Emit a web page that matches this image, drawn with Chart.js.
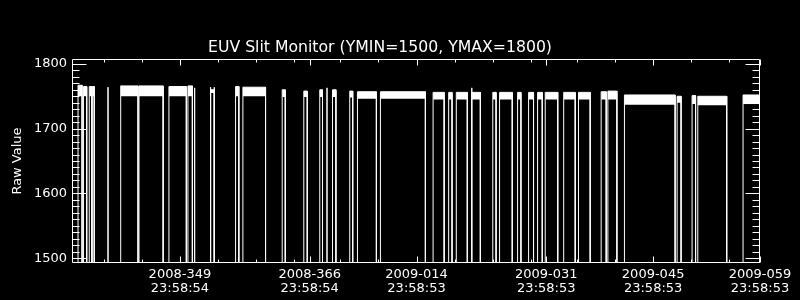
<!DOCTYPE html>
<html>
<head>
<meta charset="utf-8">
<script src="https://cdn.jsdelivr.net/npm/chart.js@4.4.1/dist/chart.umd.min.js"></script>
<style>
  html, body { margin: 0; padding: 0; background: #000; }
  #wrap { width: 800px; height: 300px; }
</style>
</head>
<body>
<div id="wrap"><canvas id="myChart" width="800" height="300"></canvas></div>
<script>
// time axis: day of year, 2009 days continue after 366 (2009-001 = 367)
var segStart = [336.65, 337.36, 338.12, 338.51, 342.24, 344.64, 348.56, 351.05, 354.02, 357.29,
  358.25, 363.40, 366.23, 368.32, 369.99, 372.25, 373.26, 376.27, 383.17, 385.21,
  386.21, 388.24, 390.99, 391.88, 394.24, 395.68, 396.86, 397.86, 400.28, 402.22,
  405.19, 406.07, 408.24, 415.14, 417.10, 417.85, 423.78];
var segEnd = [337.18, 337.79, 338.45, 338.77, 344.51, 347.80, 350.84, 351.63, 354.50, 357.72,
  361.22, 363.80, 366.68, 368.68, 370.44, 372.64, 375.74, 382.16, 384.62, 385.65,
  387.65, 389.36, 391.42, 393.54, 394.68, 396.33, 397.47, 399.50, 401.79, 403.75,
  405.85, 407.25, 414.88, 415.66, 417.56, 421.64, 426.00];
// upper and lower edge of the noisy raw value inside each segment
var segHigh = [1767, 1765, 1765, 1765, 1766, 1766, 1765, 1766, 1760, 1765,
  1764, 1760, 1758, 1760, 1760, 1758, 1757, 1757, 1756, 1756,
  1756, 1756, 1756, 1756, 1756, 1756, 1756, 1756, 1756, 1756,
  1757, 1758, 1752, 1750, 1751, 1750, 1752];
var segLow = [1750, 1750, 1750, 1750, 1750, 1750, 1750, 1750, 1755, 1750,
  1750, 1749, 1749, 1749, 1749, 1748, 1746, 1746, 1745, 1745,
  1745, 1745, 1745, 1745, 1745, 1745, 1745, 1745, 1745, 1745,
  1745, 1745, 1737, 1740, 1738, 1736, 1738];
var spikeDay = [340.58, 351.93, 354.02, 354.50, 369.27, 388.24];
var spikeHigh = [1764, 1763, 1764, 1764, 1763, 1763];
var dropValue = 1400; // data gaps fall below the plot

var yTicks = [1500, 1600, 1700, 1800];
var xTickDays = [349.9992, 366.9992, 380.9992, 397.9992, 411.9992, 425.9992];
var xTickLabels = [
  ["2008-349", "23:58:54"],
  ["2008-366", "23:58:54"],
  ["2009-014", "23:58:53"],
  ["2009-031", "23:58:53"],
  ["2009-045", "23:58:53"],
  ["2009-059", "23:58:53"],
];
var xMinorDays = [340, 345, 350, 355, 360, 365, 371, 376, 381, 386, 391, 396, 402, 407, 412, 417, 422];

// main trace: up at segment start, along the top, down at the end
var events = [];
segStart.forEach(function (s, i) {
  events.push({ x: s, pts: [[s, dropValue], [s, segHigh[i]], [segEnd[i], segHigh[i]], [segEnd[i], dropValue]] });
});
spikeDay.forEach(function (d, i) {
  events.push({ x: d, pts: [[d, dropValue], [d, spikeHigh[i]], [d, dropValue]] });
});
events.sort(function (a, b) { return a.x - b.x; });
var trace = [{ x: 335.86, y: dropValue }];
events.forEach(function (e) {
  e.pts.forEach(function (p) { trace.push({ x: p[0], y: p[1] }); });
});

// noise band
var bandTop = [], bandBottom = [];
segStart.forEach(function (s, i) {
  bandTop.push({ x: s, y: segHigh[i] }, { x: segEnd[i], y: segHigh[i] }, { x: segEnd[i] + 0.01, y: null });
  bandBottom.push({ x: s, y: segLow[i] }, { x: segEnd[i], y: segLow[i] }, { x: segEnd[i] + 0.01, y: null });
});

// IDL style frame with inward ticks
var frame = {
  id: "frame",
  afterDatasetsDraw: function (chart) {
    var ctx = chart.ctx, a = chart.chartArea;
    var xs = chart.scales.x, ys = chart.scales.y;
    var L = Math.round(a.left) + 0.5, R = Math.round(a.right) - 0.5;
    var T = Math.round(a.top) + 0.5, B = Math.round(a.bottom) - 0.5;
    ctx.save();
    ctx.strokeStyle = "#fff";
    ctx.lineWidth = 1;
    ctx.beginPath();
    ctx.rect(L, T, R - L, B - T);
    function hTick(v, len) {
      var y = Math.round(ys.getPixelForValue(v)) + 0.5;
      ctx.moveTo(L, y); ctx.lineTo(L + len, y);
      ctx.moveTo(R, y); ctx.lineTo(R - len, y);
    }
    function vTick(v, len) {
      var x = Math.round(xs.getPixelForValue(v)) + 0.5;
      ctx.moveTo(x, B); ctx.lineTo(x, B - len);
      ctx.moveTo(x, T); ctx.lineTo(x, T + len);
    }
    var step = (yTicks[1] - yTicks[0]) / 10;
    for (var v = yTicks[0] + step; v < yTicks[yTicks.length - 1]; v += step) {
      hTick(v, 7);
    }
    yTicks.forEach(function (v) { hTick(v, 14); });
    xMinorDays.forEach(function (v) { vTick(v, 3); });
    xTickDays.forEach(function (v) { vTick(v, 6); });
    ctx.stroke();
    ctx.restore();
  },
};

Chart.defaults.font.family = "'DejaVu Sans', sans-serif";
Chart.defaults.color = "#fff";

new Chart("myChart", {
  type: "line",
  data: {
    datasets: [
      {
        label: "Raw Value",
        data: trace,
        borderColor: "#fff",
        borderWidth: 1,
        pointRadius: 0,
        fill: false,
        tension: 0,
      },
      {
        data: bandTop,
        borderWidth: 0,
        pointRadius: 0,
        fill: false,
      },
      {
        data: bandBottom,
        borderWidth: 0,
        pointRadius: 0,
        backgroundColor: "#fff",
        fill: "-1",
      },
    ],
  },
  options: {
    responsive: false,
    animation: false,
    layout: { padding: { left: 0, right: 40, top: 0, bottom: 0 } },
    plugins: {
      legend: { display: false },
      tooltip: { enabled: false },
      title: {
        display: true,
        text: "EUV Slit Monitor (YMIN=1500, YMAX=1800)",
        color: "#fff",
        font: { size: 15.7, weight: "normal" },
        padding: { top: 39, bottom: 1.2 },
      },
    },
    scales: {
      x: {
        type: "linear",
        min: 335.86,
        max: 426.0,
        grid: { display: false, drawTicks: false },
        border: { display: false },
        afterBuildTicks: function (scale) {
          scale.ticks = xTickDays.map(function (v) { return { value: v }; });
        },
        afterFit: function (scale) { scale.height = 37; },
        ticks: {
          autoSkip: false,
          maxRotation: 0,
          padding: 4,
          color: "#fff",
          font: { size: 13, lineHeight: 1.1 },
          callback: function (v, i) { return xTickLabels[i]; },
        },
      },
      y: {
        min: 1492.5,
        max: 1807.5,
        grid: { display: false, drawTicks: false },
        border: { display: false },
        afterBuildTicks: function (scale) {
          scale.ticks = yTicks.map(function (v) { return { value: v }; });
        },
        afterFit: function (scale) { scale.width = 72; },
        ticks: {
          padding: 5,
          color: "#fff",
          font: { size: 13 },
          callback: function (v) { return String(v); },
        },
        title: {
          display: true,
          text: "Raw Value",
          color: "#fff",
          font: { size: 13 },
          padding: { top: 10, bottom: 0 },
        },
      },
    },
  },
  plugins: [frame],
});
</script>
</body>
</html>
